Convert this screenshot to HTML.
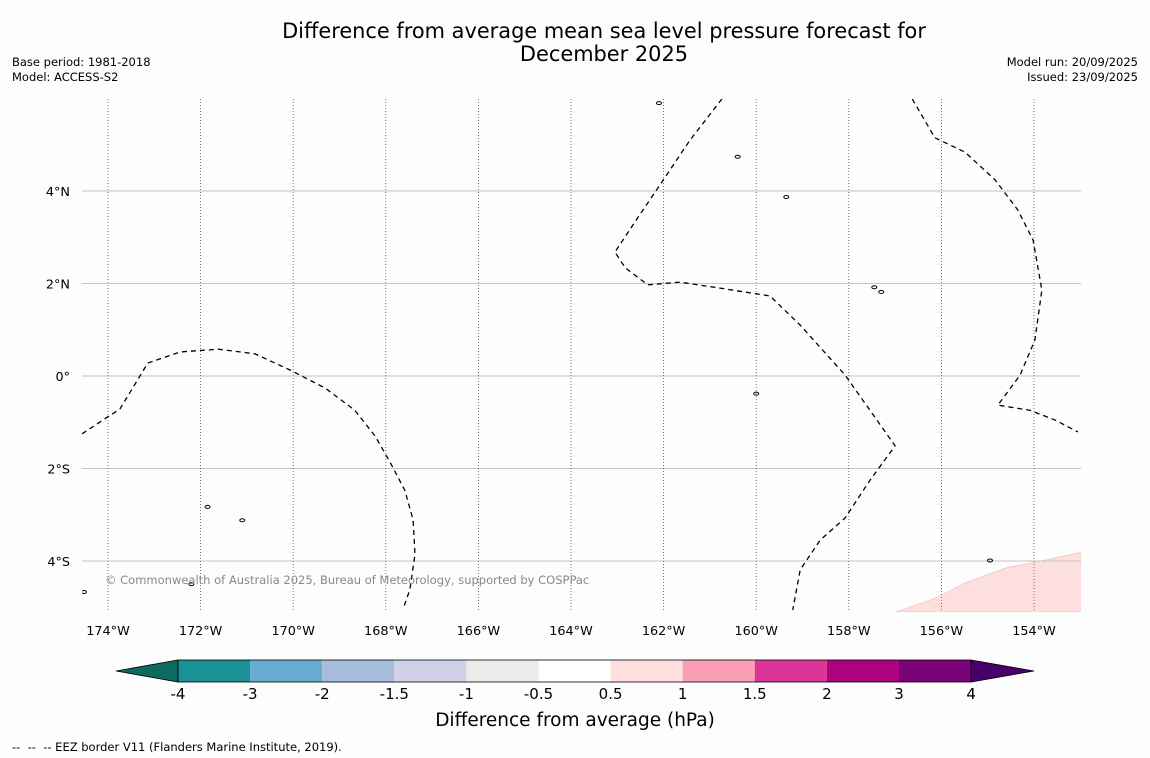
<!DOCTYPE html>
<html><head><meta charset="utf-8">
<style>
body{margin:0;background:#fdfdfd;font-family:"DejaVu Sans",sans-serif;}
#wrap{position:relative;width:1150px;height:758px;overflow:hidden;background:#fdfdfd;}
.t{position:absolute;color:#000;}
</style></head>
<body>
<div id="wrap">
<div class="t" style="left:0;width:1208px;top:20px;text-align:center;font-size:20.9px;line-height:23px;">Difference from average mean sea level pressure forecast for<br>December 2025</div>
<div class="t" style="left:12px;top:55px;font-size:11.5px;line-height:15px;">Base period: 1981-2018<br>Model: ACCESS-S2</div>
<div class="t" style="right:12px;top:55px;font-size:11.5px;line-height:15px;text-align:right;">Model run: 20/09/2025<br>Issued: 23/09/2025</div>
<div class="t" style="left:12px;top:740px;font-size:11.5px;">-- &nbsp;-- &nbsp;-- EEZ border V11 (Flanders Marine Institute, 2019).</div>
<svg id="svg" width="1150" height="758" style="position:absolute;left:0;top:0"></svg>
</div>
<script>
const lonTicks=[-174,-172,-170,-168,-166,-164,-162,-160,-158,-156,-154];
const latTicks=[4,2,0,-2,-4];
const latLabels=["4°N","2°N","0°","2°S","4°S"];
const eez1Lon=[-174.56,-173.74,-173.14,-172.44,-171.62,-170.83,-170.07,-169.31,-168.67,-168.23,-167.91,-167.59,-167.41,-167.37,-167.48,-167.61];
const eez1Lat=[-1.25,-0.71,0.28,0.52,0.58,0.48,0.13,-0.26,-0.74,-1.30,-1.86,-2.47,-3.11,-3.86,-4.62,-4.99];
const eez2Lon=[-160.74,-161.43,-162.08,-162.62,-163.05,-162.83,-162.34,-161.65,-160.78,-159.70,-159.05,-158.08,-157.00,-157.54,-158.08,-158.62,-159.05,-159.21];
const eez2Lat=[5.99,5.10,4.13,3.33,2.68,2.34,1.97,2.03,1.90,1.73,1.10,0.02,-1.51,-2.25,-3.07,-3.55,-4.19,-5.06];
const eez3Lon=[-156.63,-156.14,-155.49,-154.84,-154.35,-154.02,-153.83,-153.98,-154.30,-154.78,-154.09,-153.55,-153.05];
const eez3Lat=[5.99,5.15,4.84,4.24,3.59,2.94,1.86,0.78,0.02,-0.63,-0.74,-0.95,-1.21];
const anomLon=[-156.98,-156.12,-155.48,-154.61,-153.75,-152.98,-152.98];
const anomLat=[-5.10,-4.80,-4.47,-4.15,-3.98,-3.81,-5.10];
const cbLevels=["-4","-3","-2","-1.5","-1","-0.5","0.5","1","1.5","2","3","4"];
const cbColors=["#1a9196","#67aad2","#a6bddb","#d0d1e6","#ececec","#ffffff","#fde0dd","#fa9fb5","#dd3497","#ae017e","#7a0177"];
const islandLon=[-171.85,-171.1,-159.35,-157.45,-157.3,-160.4,-162.1,-172.2,-154.95,-174.52,-160.0];
const islandLat=[-2.83,-3.12,3.87,1.92,1.82,4.74,5.9,-4.5,-3.99,-4.67,-0.38];

const X0=82,X1=1081,Y0=99,Y1=612;
const xS=lon=>108+(lon+174)*46.3;
const yS=lat=>376-lat*46.25;
const NS="http://www.w3.org/2000/svg";
const svg=document.getElementById('svg');
const FF='DejaVu Sans, sans-serif';
function mk(tag,attrs,parent){const e=document.createElementNS(NS,tag);for(const k in attrs)e.setAttribute(k,attrs[k]);(parent||svg).appendChild(e);return e;}
const defs=mk('defs',{});const cp=mk('clipPath',{id:'clip'},defs);mk('rect',{x:X0,y:Y0,width:X1-X0,height:Y1-Y0},cp);
const g=mk('g',{'clip-path':'url(#clip)'});
let ap=mk('polygon',{points:anomLon.map((l,i)=>xS(l)+','+yS(anomLat[i])).join(' '),fill:'#fde0dd',stroke:'#e8b8b4','stroke-width':0.6},g);


latTicks.forEach((lat,i)=>{
 let l=mk('line',{x1:X0,x2:X1,y1:yS(lat),y2:yS(lat),stroke:'#c4c4c4','stroke-width':1},g);
 
 
 let t=mk('text',{x:70,y:yS(lat)+5,'text-anchor':'end','font-size':12.8,'font-family':FF});
 t.textContent=latLabels[i];
 
 
});
lonTicks.forEach(lon=>{
 let l=mk('line',{x1:xS(lon),x2:xS(lon),y1:Y0,y2:Y1,stroke:'#555','stroke-width':0.8,'stroke-dasharray':'1,2'},g);
 
 
 let t=mk('text',{x:xS(lon),y:635,'text-anchor':'middle','font-size':12.8,'font-family':FF});
 t.textContent=Math.abs(lon)+'°W';
 
 
});
[[eez1Lon,eez1Lat],[eez2Lon,eez2Lat],[eez3Lon,eez3Lat]].forEach(([lo,la])=>{
 let p=mk('polyline',{points:lo.map((l,i)=>xS(l)+','+yS(la[i])).join(' '),fill:'none',stroke:'#000','stroke-width':1.3,'stroke-dasharray':'5,4'},g);
 
 
});
islandLon.forEach((lo,i)=>{
 let e=mk('ellipse',{cx:xS(lo),cy:yS(islandLat[i]),rx:2.5,ry:1.5,fill:'none',stroke:'#000','stroke-width':1},g);
 
 
});
let c=mk('text',{x:105,y:584,'font-size':11.5,fill:'#888','font-family':FF});
c.textContent='© Commonwealth of Australia 2025, Bureau of Meteorology, supported by COSPPac';


const cbX0=178,cbW=72.1,cbY=660,cbH=22;
let lt=mk('polygon',{points:`116,671 ${cbX0},${cbY} ${cbX0},${cbY+cbH}`,fill:'#0c6b5e',stroke:'#000','stroke-width':0.8});


cbColors.forEach((col,i)=>{
 let r=mk('rect',{x:cbX0+i*cbW,y:cbY,width:cbW,height:cbH,fill:col});
 
 
});
const cbX1=cbX0+cbColors.length*cbW;
let rt=mk('polygon',{points:`${cbX1},${cbY} 1034,671 ${cbX1},${cbY+cbH}`,fill:'#49006a',stroke:'#000','stroke-width':0.8});


mk('rect',{x:cbX0,y:cbY,width:cbX1-cbX0,height:cbH,fill:'none',stroke:'#000','stroke-width':0.8});
cbLevels.forEach((lv,i)=>{
 let t=mk('text',{x:cbX0+i*cbW,y:699,'text-anchor':'middle','font-size':15,'font-family':FF});
 t.textContent=lv;
 
 
});
let cl=mk('text',{x:575,y:726,'text-anchor':'middle','font-size':18.5,'font-family':FF});
cl.textContent='Difference from average (hPa)';


</script>
</body></html>
